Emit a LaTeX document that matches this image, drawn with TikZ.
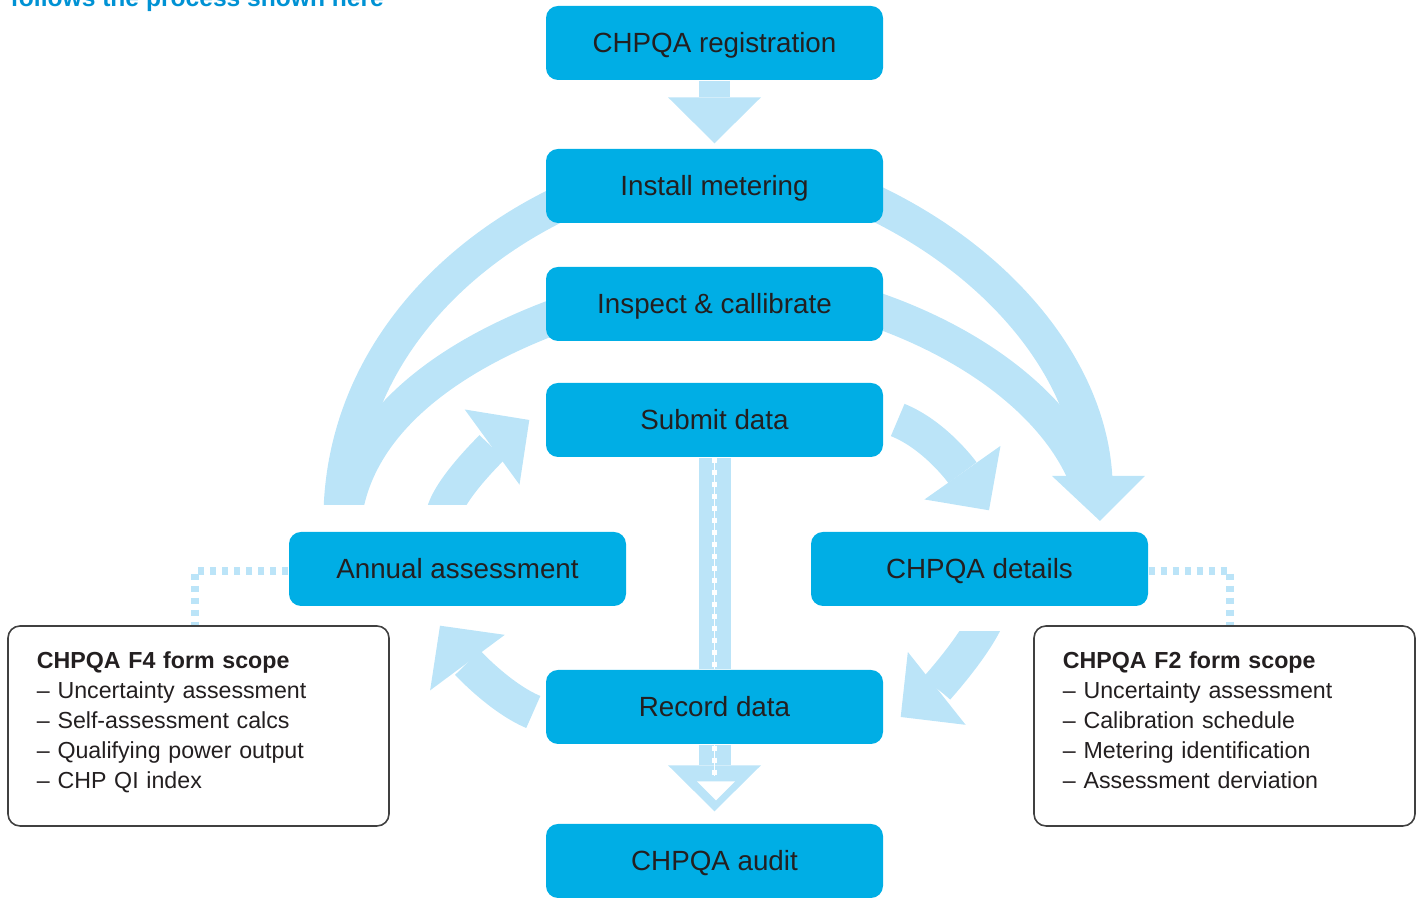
\documentclass[tikz,border=0pt]{standalone}
\usepackage{fontspec}
\setmainfont{Liberation Sans}
\usetikzlibrary{arrows.meta,backgrounds}
\definecolor{chpblue}{RGB}{0,174,229}
\definecolor{chplight}{RGB}{187,228,248}
\definecolor{chptext}{RGB}{35,31,32}
\definecolor{chphead}{RGB}{0,146,212}
\tikzset{
  stage/.style={rectangle, rounded corners=0.12cm, fill=chpblue, minimum width=3.37cm,
    minimum height=0.74cm, inner sep=0pt, text height=0.2cm, text depth=0pt,
    text=chptext, font=\fontsize{7.9}{9}\selectfont},
  scopebox/.style={rectangle, rounded corners=0.12cm, draw=black!75, line width=0.45pt,
    fill=white, minimum width=3.81cm, minimum height=2cm},
  scopetext/.style={anchor=north west, inner sep=0pt, text width=3.23cm, align=left,
    text=chptext, font=\fontsize{6.6}{8.54}\selectfont},
  band/.style={draw=chplight, line width=0.35cm},
  flow/.style={band, -{Triangle[length=0.46cm,width=0.93cm,line width=0pt]}},
  link/.style={draw=chplight, line width=0.075cm, dash pattern=on 0.06cm off 0.06cm},
}

\begin{document}
\begin{tikzpicture}
	\useasboundingbox (0,0) rectangle (14.19,-8.99);
	
	\node[anchor=base west, inner sep=0pt, text=chphead, font=\fontsize{7}{8}\selectfont\bfseries] (lead) at (0.10,-0.065) {follows the process shown here};
	
	% process stages
	\node[stage] (reg) at (7.145,-0.43) {CHPQA registration};
	\node[stage] (install) at (7.145,-1.86) {Install metering};
	\node[stage] (inspect) at (7.145,-3.04) {Inspect \& callibrate};
	\node[stage] (submit) at (7.145,-4.20) {Submit data};
	\node[stage] (annual) at (4.575,-5.69) {Annual assessment};
	\node[stage] (details) at (9.795,-5.69) {CHPQA details};
	\node[stage] (record) at (7.145,-7.07) {Record data};
	\node[stage] (audit) at (7.145,-8.61) {CHPQA audit};
	
	% form scope boxes
	\node[scopebox] (f4) at (1.985,-7.26) {};
	\node[scopetext] (f4list) at ([shift={(0.29,-0.26)}]f4.north west) {\textbf{CHPQA F4 form scope}\\
		-- Uncertainty assessment\\ -- Self-assessment calcs\\
		-- Qualifying power output\\ -- CHP QI index};
	\node[scopebox] (f2) at (12.245,-7.26) {};
	\node[scopetext] (f2list) at ([shift={(0.29,-0.26)}]f2.north west) {\textbf{CHPQA F2 form scope}\\
		-- Uncertainty assessment\\ -- Calibration schedule\\
		-- Metering identification\\ -- Assessment derviation};
	
	\begin{pgfonlayer}{background}
		\draw[link] ([yshift=-0.02cm]annual.west) -| ([xshift=-0.035cm]f4.north);
		\draw[link] ([yshift=-0.02cm]details.east) -| ([xshift=0.055cm]f2.north);
		
		% left arcs and small arrow up to submit
		\begin{scope}
			\clip (0,0) rectangle (14.19,-5.05);
			\draw[band] ([shift={(0.14,-0.18)}]install.west) .. controls (4.40,-2.62) and (3.45,-3.70) .. (3.41,-5.12);
			\draw[band] ([shift={(0.14,-0.11)}]inspect.west) .. controls (4.50,-3.55) and (3.60,-4.20) .. (3.45,-5.12);
			\draw[flow] (4.44,-5.12) .. controls (4.52,-4.85) and (4.95,-4.45) .. ([shift={(-0.16,0)}]submit.west);
		\end{scope}
		
		% right arcs into details
		\begin{scope}
			\clip (0,0) rectangle (14.19,-4.77);
			\draw[band] ([shift={(-0.13,-0.15)}]install.east) .. controls (10.00,-2.62) and (10.90,-3.70) .. (10.95,-4.80);
			\draw[band] ([shift={(-0.13,-0.04)}]inspect.east) .. controls (9.80,-3.45) and (10.60,-4.10) .. (10.87,-4.80);
		\end{scope}
		\fill[chplight] (10.52,-4.76) -- (11.45,-4.76) -- (11.00,-5.21) -- cycle;
		
		\draw[flow] ([shift={(0.14,0)}]submit.east) .. controls (9.35,-4.35) and (9.62,-4.72) .. ([shift={(0.095,0.21)}]details.north);
		\draw[flow] ([shift={(-0.12,-0.05)}]record.west) .. controls (5.00,-6.98) and (4.67,-6.62) .. ([shift={(-0.175,-0.19)}]annual.south);
		\begin{scope}
			\clip (0,-6.32) rectangle (14.19,-8.99);
			\draw[flow] (9.85,-6.22) .. controls (9.70,-6.52) and (9.36,-6.89) .. ([shift={(0.17,-0.10)}]record.east);
		\end{scope}
		
		% straight arrows down the middle
		\draw[flow, line width=0.31cm, shorten >=0.05cm] (reg) -- (install);
		\draw[band, line width=0.32cm] (submit) -- (record);
		\draw[flow, line width=0.32cm, shorten >=0.12cm] (record) -- (audit);
		\draw[white, line width=0.015cm] (submit.south) -- ([yshift=0.47cm]audit.north);
		\draw[white, line width=0.045cm, dash pattern=on 0.05cm off 0.07cm] (submit.south) -- ([yshift=0.47cm]audit.north);
		\fill[white] ([shift={(-0.175,0.42)}]audit.north) -- ++(0.38,0) -- ([shift={(0.015,0.23)}]audit.north) -- cycle;
	\end{pgfonlayer}
\end{tikzpicture}
\end{document}
